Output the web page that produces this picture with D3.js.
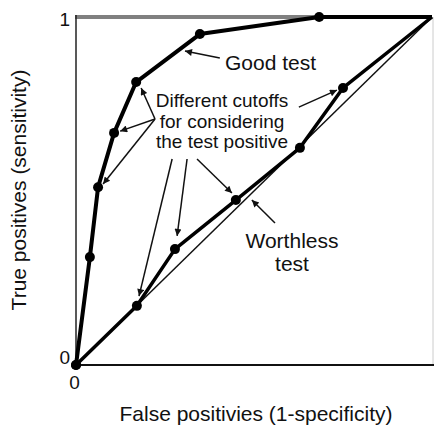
<!DOCTYPE html>
<html>
<head>
<meta charset="utf-8">
<script src="https://cdn.jsdelivr.net/npm/d3@7"></script>
<style>
  body { margin: 0; background: #fff; }
  text { font-family: "Liberation Sans", Arial, sans-serif; fill: #111; }
</style>
</head>
<body>
<svg id="chart" width="434" height="425"></svg>
<script>
// ROC curves (false positive rate, true positive rate)
let goodFpr = [0, 0.039, 0.062, 0.107, 0.169, 0.348, 0.683, 1];
let goodTpr = [0, 0.310, 0.511, 0.667, 0.813, 0.951, 1.0, 1];

let worthFpr = [0, 0.171, 0.278, 0.449, 0.629, 0.750, 1];
let worthTpr = [0, 0.170, 0.333, 0.474, 0.624, 0.796, 1];

let tickValues = [0, 1];
let tickLabels = ["0", "1"];

// annotation arrows, [fromX, fromY, toX, toY] in chart units
let arrows = [
    [0.404, 0.882, 0.306, 0.902],
    [0.222, 0.707, 0.183, 0.796],
    [0.222, 0.707, 0.124, 0.672],
    [0.222, 0.707, 0.076, 0.520],
    [0.270, 0.592, 0.177, 0.198],
    [0.312, 0.592, 0.284, 0.371],
    [0.340, 0.592, 0.438, 0.494],
    [0.626, 0.741, 0.733, 0.790],
    [0.559, 0.408, 0.494, 0.474]
];

let svg = d3.select("#chart");

let x = d3.scaleLinear().domain([0, 1]).range([76, 432]);
let y = d3.scaleLinear().domain([0, 1]).range([365, 17]);

svg.append("defs")
.append("marker")
.attr("id", "head")
.attr("viewBox", "0 0 10 10")
.attr("refX", 10)
.attr("refY", 5)
.attr("markerWidth", 11)
.attr("markerHeight", 7)
.attr("markerUnits", "userSpaceOnUse")
.attr("orient", "auto")
.append("path")
.attr("d", "M0,0 L10,5 L0,10 z")
.attr("fill", "#111");

//frame
svg.append("line")
.attr("x1", x(0) - 1).attr("x2", x(1))
.attr("y1", y(1)).attr("y2", y(1))
.attr("stroke", "#808080").attr("stroke-width", 4);

svg.append("line")
.attr("x1", x(0)).attr("x2", x(0))
.attr("y1", y(1) - 2).attr("y2", y(0))
.attr("stroke", "#222").attr("stroke-width", 1.5);

svg.append("line")
.attr("x1", x(1) + 1).attr("x2", x(1) + 1)
.attr("y1", y(1)).attr("y2", y(0))
.attr("stroke", "#ccc").attr("stroke-width", 1);

svg.append("line")
.attr("x1", x(0)).attr("x2", x(1) + 2)
.attr("y1", y(0)).attr("y2", y(0))
.attr("stroke", "#111").attr("stroke-width", 2);

//ticks
let xAxis = svg.append("g")
.attr("transform", "translate(0," + y(0) + ")")
.call(d3.axisBottom(x).tickValues(tickValues).tickFormat((d, i) => tickLabels[i]).tickSize(0).tickPadding(11));
xAxis.select(".domain").remove();
xAxis.selectAll("text").style("font-size", "19px").attr("dx", (d) => d == 0 ? -2 : 6);

let yAxis = svg.append("g")
.attr("transform", "translate(" + x(0) + ",0)")
.call(d3.axisLeft(y).tickValues(tickValues).tickFormat((d, i) => tickLabels[i]).tickSize(0).tickPadding(6));
yAxis.select(".domain").remove();
yAxis.selectAll("text").style("font-size", "19px").attr("dy", (d) => d == 0 ? "-0.1em" : "0.45em");

//diagonal
let line = d3.line().x((d) => x(d[0])).y((d) => y(d[1]));

svg.append("path")
.attr("d", line([[0, 0], [1, 1]]))
.attr("fill", "none")
.attr("stroke", "#111")
.attr("stroke-width", 1.5);

function drawCurve(fpr, tpr, width)
{
    let pts = fpr.map((d, i) => [d, tpr[i]]);

    svg.append("path")
    .attr("d", line(pts))
    .attr("fill", "none")
    .attr("stroke", "#000")
    .attr("stroke-width", width)
    .attr("stroke-linejoin", "round");

    svg.selectAll()
    .data(pts.slice(0, pts.length - 1))
    .enter()
    .append("circle")
    .attr("cx", (d) => x(d[0]))
    .attr("cy", (d) => y(d[1]))
    .attr("r", 5)
    .attr("fill", "#000");
}

drawCurve(worthFpr, worthTpr, 3.5);
drawCurve(goodFpr, goodTpr, 4);

//arrows
svg.selectAll()
.data(arrows)
.enter()
.append("line")
.attr("x1", (d) => x(d[0]))
.attr("y1", (d) => y(d[1]))
.attr("x2", (d) => x(d[2]))
.attr("y2", (d) => y(d[3]))
.attr("stroke", "#111")
.attr("stroke-width", 1.5)
.attr("marker-end", "url(#head)");

//labels
svg.append("text")
.attr("x", 225).attr("y", 70)
.style("font-size", "21px")
.text("Good test");

let cutoffLines = ["Different cutoffs", "for considering", "the test positive"];
svg.selectAll()
.data(cutoffLines)
.enter()
.append("text")
.attr("x", 222)
.attr("y", (d, i) => 107 + i * 20.5)
.attr("text-anchor", "middle")
.style("font-size", "19px")
.text((d) => d);

let worthLines = ["Worthless", "test"];
svg.selectAll()
.data(worthLines)
.enter()
.append("text")
.attr("x", 292)
.attr("y", (d, i) => 248 + i * 23)
.attr("text-anchor", "middle")
.style("font-size", "21px")
.text((d) => d);

svg.append("text")
.attr("x", 256).attr("y", 421)
.attr("text-anchor", "middle")
.style("font-size", "21px")
.text("False positivies (1-specificity)");

svg.append("text")
.attr("transform", "translate(26,190) rotate(-90)")
.attr("text-anchor", "middle")
.style("font-size", "21px")
.text("True positives (sensitivity)");
</script>
</body>
</html>
